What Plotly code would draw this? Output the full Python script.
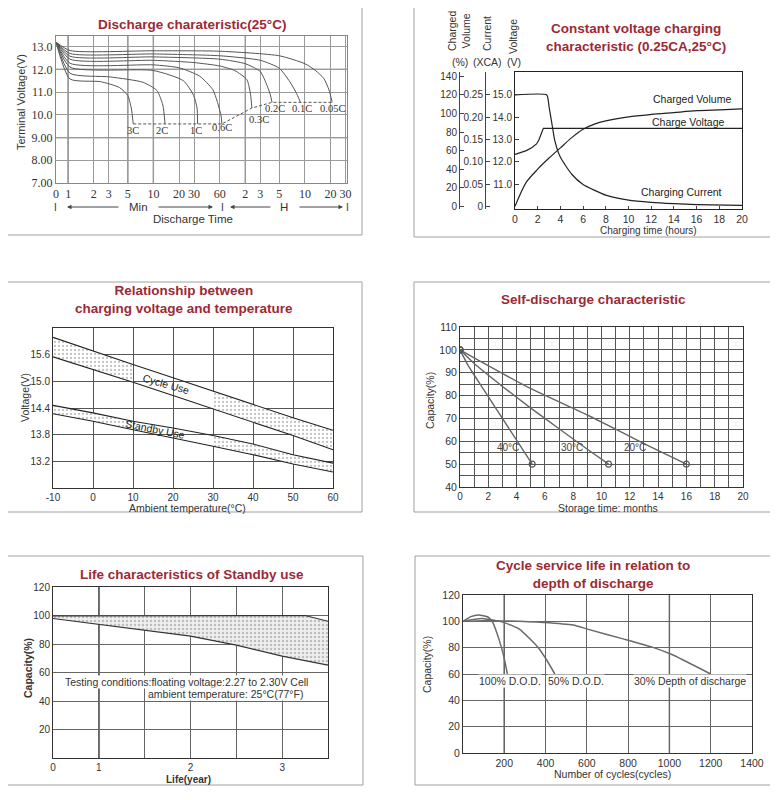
import math
import plotly.graph_objects as go

# The page body adds an 8px margin; lay the figure out in reference-pixel terms
OFF = 8
W, H = 770, 792
SANS = "Liberation Sans"
SERIF = "Liberation Serif"
TITLE_COLOR = "#9b2a35"
TXT = "#333333"

# ---------------- Panel 1: discharge characteristic (time in minutes) ----------------
p1_tick_min = [0.72, 1, 2, 3, 5, 10, 20, 30, 60, 120, 180, 300, 600, 1200, 1800]
p1_tick_text = ["0", "1", "2", "3", "5", "10", "20", "30", "60", "2", "3", "5", "10", "20", "30"]
p1_v_ticks = [7, 8, 9, 10, 11, 12, 13]
p1_v_text = ["7.00", "8.00", "9.00", "10.0", "11.0", "12.0", "13.0"]

t_3c = [0.72, 1.05, 2.4, 4.0, 5.0, 5.5, 5.8]
v_3c = [13.2, 11.58, 11.46, 11.2, 10.85, 10.3, 9.6]
t_2c = [0.72, 1.05, 3.1, 7.6, 11, 12.9, 13.7]
v_2c = [13.2, 11.83, 11.67, 11.43, 11.07, 10.43, 9.6]
t_1c = [0.72, 1.05, 10, 22.5, 29.6, 32.5, 33]
v_1c = [13.2, 12.1, 11.95, 11.5, 10.86, 10.3, 9.6]
t_06c = [0.72, 1.05, 10, 20, 35, 50, 56, 62, 63.7]
v_06c = [13.2, 12.27, 12.2, 12.07, 11.7, 11.1, 10.6, 10.0, 9.6]
t_03c = [0.72, 1.05, 10, 30, 60, 90, 125, 138, 143]
v_03c = [13.2, 12.45, 12.4, 12.3, 12.15, 11.95, 11.55, 10.9, 10.3]
t_02c = [0.72, 1.05, 10, 60, 120, 180, 215, 235, 247]
v_02c = [13.2, 12.58, 12.55, 12.45, 12.25, 11.9, 11.3, 10.9, 10.55]
t_01c = [0.72, 1.05, 10, 60, 180, 300, 400, 470, 532]
v_01c = [13.2, 12.7, 12.68, 12.6, 12.4, 12.05, 11.45, 11.0, 10.55]
t_005c = [0.72, 1.05, 10, 60, 300, 600, 800, 1000, 1150, 1253]
v_005c = [13.2, 12.83, 12.82, 12.8, 12.6, 12.25, 11.95, 11.6, 11.1, 10.55]
cutoff_t = [5.8, 63.7, 143, 247, 1253]
cutoff_v = [9.6, 9.6, 10.3, 10.55, 10.55]
p1_labels = ["3C", "2C", "1C", "0.6C", "0.3C", "0.2C", "0.1C", "0.05C"]
p1_label_t = [5.8, 12.5, 32, 63, 172, 270, 556, 1253]
p1_label_v = [9.33, 9.33, 9.33, 9.43, 9.78, 10.27, 10.27, 10.27]

# ---------------- Panel 2: constant voltage charging ----------------
p2_hours_ticks = list(range(0, 21, 2))
volt_t = [0, 0.5, 1, 1.5, 1.9, 2.1, 2.3, 2.5, 20]
volt_v = [12.33, 12.4, 12.5, 12.64, 12.8, 12.98, 13.25, 13.5, 13.5]
curr_t = [0, 2.8, 3.0, 3.3, 3.5, 4, 5, 6, 8, 10, 12, 14, 16, 20]
curr_i = [0.25, 0.25, 0.224, 0.178, 0.148, 0.11, 0.072, 0.049, 0.025, 0.014, 0.009, 0.006, 0.004, 0.002]
vol_t = [0, 1, 2, 3, 4, 5, 6, 7, 8, 10, 12, 14, 16, 18, 20]
vol_pct = [0, 26, 40, 52, 63, 74, 83, 88.5, 92, 96.4, 99, 101, 103, 104, 105]
p2_volt_ticks = [11, 12, 13, 14, 15]
p2_volt_text = ["11.0", "12.0", "13.0", "14.0", "15.0"]
p2_curr_ticks = [0, 0.05, 0.10, 0.15, 0.20, 0.25]
p2_curr_text = ["0", "0.05", "0.10", "0.15", "0.20", "0.25"]
p2_pct_ticks = [0, 20, 40, 60, 80, 100, 120, 140]
V_RANGE = [9.88, 16.03]

# ---------------- Panel 3: charging voltage vs temperature ----------------
temp_c = [-10, 0, 10, 20, 30, 40, 50, 60]
cycle_upper = [15.99, 15.68, 15.38, 15.08, 14.78, 14.48, 14.18, 13.90]
cycle_lower = [15.55, 15.27, 14.98, 14.68, 14.38, 14.08, 13.78, 13.46]
standby_upper = [14.46, 14.29, 14.10, 13.95, 13.78, 13.59, 13.35, 13.16]
standby_lower = [14.27, 14.10, 13.91, 13.73, 13.54, 13.35, 13.14, 12.96]
p3_volt_ticks = [13.2, 13.8, 14.4, 15.0, 15.6]
p3_temp_ticks = [-10, 0, 10, 20, 30, 40, 50, 60]
p3_temp_text = ["-10", "0", "10", "20", "30", "40", "50", "60"]

# ---------------- Panel 4: self-discharge ----------------
sd40_m = [0, 0.5, 1, 2, 3, 4, 5.1]
sd40_c = [100, 94, 89, 79.5, 70, 60.5, 50]
sd30_m = [0, 1, 3, 5, 7, 9, 10.5]
sd30_c = [100, 94, 84, 74.5, 65.5, 56.5, 50]
sd20_m = [0, 1, 5, 9, 13, 16]
sd20_c = [100, 96.5, 83, 71.5, 59, 50]
p4_labels = ["40°C", "30°C", "20°C"]
p4_label_m = [3.4, 7.9, 12.4]
p4_label_c = [57.2, 57.2, 57.2]

# ---------------- Panel 5: standby life ----------------
life_lower_yr = [0.5, 1, 1.5, 2, 2.5, 3, 3.5]
life_lower_cap = [97.9, 93.9, 89.7, 85.5, 79.2, 71.5, 65.2]
life_upper_yr = [0.5, 3.25, 3.5]
life_upper_cap = [99.6, 100, 96]
p5_x_ticks = [0.5, 1, 1.5, 2, 2.5, 3, 3.5]
p5_x_text = ["0", "1", "", "2", "", "3", ""]
p5_y_ticks = [20, 40, 60, 80, 100, 120]

# ---------------- Panel 6: cycle life ----------------
dod100_n = [0, 38, 76, 121, 144, 174, 197, 215]
dod100_c = [100, 103.6, 104.8, 103.3, 99.2, 86.5, 73.8, 60]
dod50_n = [0, 91, 197, 273, 364, 403, 445]
dod50_c = [100, 102.2, 99.2, 94.1, 80.2, 71.2, 60]
dod30_n = [0, 100, 200, 390, 534, 603, 780, 920, 1009, 1200]
dod30_c = [100, 100.5, 100.3, 99.2, 97.2, 94.1, 86.5, 80.2, 75, 60]
p6_x_ticks = [200, 400, 600, 800, 1000, 1200, 1400]
p6_y_ticks = [0, 20, 40, 60, 80, 100, 120]
p6_labels = ["100% D.O.D.", "50% D.O.D.", "30% Depth of discharge"]
p6_label_n = [227, 549, 1099]
p6_label_c = [54.5, 54.5, 54.5]


def fx(x):
    return (x - OFF) / W


def fy(y):
    return 1 - (y - OFF) / H


def hx(x0, x1):
    return [fx(x0), fx(x1)]


def vy(top, bottom):
    return [fy(bottom), fy(top)]


fig = go.Figure()

# ---- Panel 1 traces
p1_series = [(t_3c, v_3c), (t_2c, v_2c), (t_1c, v_1c), (t_06c, v_06c),
             (t_03c, v_03c), (t_02c, v_02c), (t_01c, v_01c), (t_005c, v_005c)]
for tt, vv in p1_series:
    fig.add_trace(go.Scatter(x=tt, y=vv, mode="lines", xaxis="x", yaxis="y",
                             line=dict(color="#555", width=1, shape="spline", smoothing=0.6),
                             hoverinfo="skip"))
fig.add_trace(go.Scatter(x=cutoff_t, y=cutoff_v, mode="lines", xaxis="x", yaxis="y",
                         line=dict(color="#555", width=1, dash="3px,2px"), hoverinfo="skip"))

# ---- Panel 2 traces
fig.add_trace(go.Scatter(x=volt_t, y=volt_v, mode="lines", xaxis="x2", yaxis="y2",
                         line=dict(color="#222", width=1.2)))
fig.add_trace(go.Scatter(x=curr_t, y=curr_i, mode="lines", xaxis="x2", yaxis="y8",
                         line=dict(color="#222", width=1.2, shape="spline", smoothing=0.5)))
fig.add_trace(go.Scatter(x=vol_t, y=vol_pct, mode="lines", xaxis="x2", yaxis="y7",
                         line=dict(color="#222", width=1.2, shape="spline", smoothing=0.8)))

# ---- Panel 3 traces: dotted band segments then lines
pat = dict(shape=".", fgcolor="#888", bgcolor="white", size=4, solidity=0.25)
for up, lo in [(cycle_upper, cycle_lower), (standby_upper, standby_lower)]:
    for seg in [slice(0, 3), slice(4, 8)]:
        xs = temp_c[seg]
        poly_x = xs + xs[::-1]
        poly_y = up[seg] + lo[seg][::-1]
        fig.add_trace(go.Scatter(x=poly_x, y=poly_y, mode="none", fill="toself",
                                 fillpattern=pat, fillcolor="rgba(0,0,0,0)",
                                 xaxis="x3", yaxis="y3", hoverinfo="skip"))
for arr in [cycle_upper, cycle_lower, standby_upper, standby_lower]:
    fig.add_trace(go.Scatter(x=temp_c, y=arr, mode="lines", xaxis="x3", yaxis="y3",
                             line=dict(color="#222", width=1.1)))

# ---- Panel 4 traces
for mm, cc in [(sd40_m, sd40_c), (sd30_m, sd30_c), (sd20_m, sd20_c)]:
    fig.add_trace(go.Scatter(x=mm, y=cc, mode="lines", xaxis="x4", yaxis="y4",
                             line=dict(color="#666", width=1.4, shape="spline", smoothing=0.3)))
    fig.add_trace(go.Scatter(x=[mm[0], mm[-1]], y=[cc[0], cc[-1]], mode="markers",
                             xaxis="x4", yaxis="y4",
                             marker=dict(symbol="circle-open", size=6, color="#555",
                                         line=dict(width=1.2, color="#555"))))

# ---- Panel 5 traces
poly5_x = life_lower_yr + life_upper_yr[::-1]
poly5_y = life_lower_cap + life_upper_cap[::-1]
fig.add_trace(go.Scatter(x=poly5_x, y=poly5_y, mode="none", fill="toself",
                         fillcolor="rgba(0,0,0,0)",
                         fillpattern=dict(shape=".", fgcolor="#8c8c8c", bgcolor="#efefef",
                                          size=4, solidity=0.3),
                         xaxis="x5", yaxis="y5", hoverinfo="skip"))
fig.add_trace(go.Scatter(x=life_lower_yr, y=life_lower_cap, mode="lines", xaxis="x5", yaxis="y5",
                         line=dict(color="#333", width=1.1)))
fig.add_trace(go.Scatter(x=life_upper_yr, y=life_upper_cap, mode="lines", xaxis="x5", yaxis="y5",
                         line=dict(color="#333", width=1.1)))

# ---- Panel 6 traces
for nn, cc in [(dod100_n, dod100_c), (dod50_n, dod50_c), (dod30_n, dod30_c)]:
    fig.add_trace(go.Scatter(x=nn, y=cc, mode="lines", xaxis="x6", yaxis="y6",
                             line=dict(color="#6a6a6a", width=1.5, shape="spline", smoothing=0.5)))


def axis(**kw):
    base = dict(showline=True, linecolor="#333", linewidth=1, mirror=True, ticks="",
                tickfont=dict(family=SANS, size=10, color=TXT), showgrid=True,
                gridcolor="#7a7a7a", gridwidth=1, zeroline=False, fixedrange=True,
                automargin=False)
    base.update(kw)
    return base


layout = dict(
    width=W, height=H, margin=dict(l=0, r=0, t=0, b=0, pad=0, autoexpand=False),
    paper_bgcolor="white", plot_bgcolor="white", showlegend=False,
    # Panel 1
    xaxis=axis(domain=hx(56, 347), anchor="y", type="log",
               range=[-0.143, 3.272], tickvals=p1_tick_min, ticktext=p1_tick_text,
               tickfont=dict(family=SERIF, size=12, color=TXT), linecolor="#888",
               gridcolor="#9a9a9a"),
    yaxis=axis(domain=vy(36, 183), anchor="x", range=[7, 13.47], tickvals=p1_v_ticks,
               ticktext=p1_v_text, tickfont=dict(family=SERIF, size=12, color=TXT),
               linecolor="#888", gridcolor="#9a9a9a"),
    # Panel 2
    xaxis2=axis(domain=hx(515, 742), anchor="y2", range=[0, 20], tickvals=p2_hours_ticks,
                showgrid=False, ticks="inside", ticklen=3,
                tickfont=dict(family=SANS, size=10.5, color=TXT), linecolor="#222"),
    yaxis2=axis(domain=vy(72, 209), anchor="x2", range=V_RANGE, tickvals=p2_volt_ticks,
                ticktext=p2_volt_text, showgrid=False, ticks="inside", ticklen=4,
                linecolor="#222"),
    yaxis7=axis(overlaying="y2", anchor="free", position=fx(459), side="left",
                range=[(V_RANGE[0] - 10) * 24, (V_RANGE[1] - 10) * 24], tickvals=p2_pct_ticks,
                showgrid=False, mirror=False, ticks="inside", ticklen=4, linecolor="#444"),
    yaxis8=axis(overlaying="y2", anchor="free", position=fx(485), side="left",
                range=[(V_RANGE[0] - 10) / 20, (V_RANGE[1] - 10) / 20], tickvals=p2_curr_ticks,
                ticktext=p2_curr_text, showgrid=False, mirror=False, ticks="inside", ticklen=4,
                linecolor="#444"),
    # Panel 3
    xaxis3=axis(domain=hx(53, 333), anchor="y3", range=[-10, 60], tickvals=p3_temp_ticks,
                ticktext=p3_temp_text, gridcolor="#555",
                tickfont=dict(family=SANS, size=10, color=TXT)),
    yaxis3=axis(domain=vy(328, 488), anchor="x3", range=[12.6, 16.2], tickvals=p3_volt_ticks,
                tickformat=".1f", gridcolor="#555"),
    # Panel 4
    xaxis4=axis(domain=hx(460, 743), anchor="y4", range=[0, 20], dtick=2, tick0=0,
                gridcolor="#555", tickfont=dict(family=SANS, size=10, color=TXT),
                minor=dict(dtick=1, showgrid=True, gridcolor="#555", gridwidth=1)),
    yaxis4=axis(domain=vy(327, 487), anchor="x4", range=[40, 110], dtick=10, tick0=40,
                gridcolor="#555", tickfont=dict(family=SANS, size=10.5, color=TXT),
                minor=dict(dtick=5, showgrid=True, gridcolor="#555", gridwidth=1)),
    # Panel 5
    xaxis5=axis(domain=hx(53, 328), anchor="y5", range=[0.5, 3.5], tickvals=p5_x_ticks,
                ticktext=p5_x_text, gridcolor="#666",
                tickfont=dict(family=SANS, size=10, color=TXT)),
    yaxis5=axis(domain=vy(587, 758), anchor="x5", range=[0, 120], tickvals=p5_y_ticks,
                gridcolor="#666"),
    # Panel 6
    xaxis6=axis(domain=hx(463, 752), anchor="y6", range=[0, 1400], tickvals=p6_x_ticks,
                gridcolor="#666", tickfont=dict(family=SANS, size=10.5, color=TXT)),
    yaxis6=axis(domain=vy(595, 753), anchor="x6", range=[0, 120], tickvals=p6_y_ticks,
                gridcolor="#666", tickfont=dict(family=SANS, size=10.5, color=TXT)),
)
fig.update_layout(**layout)

shapes = []
# panel frames
for x0, y0, x1, y1 in [(7, 7, 362, 235), (414, 7, 771, 237), (7, 282, 362, 512),
                       (414, 282, 771, 512), (7, 556, 363, 785), (415, 556, 771, 785)]:
    shapes.append(dict(type="rect", xref="paper", yref="paper", x0=fx(x0), x1=fx(x1),
                       y0=fy(y1), y1=fy(y0), line=dict(color="#a0a0a0", width=1)))
# darker grid lines
for gx in [1, 5, 10, 120]:
    shapes.append(dict(type="line", xref="x", yref="y domain", x0=gx, x1=gx, y0=0, y1=1,
                       line=dict(color="#555", width=1.3), layer="below"))
for gy in [12, 9]:
    shapes.append(dict(type="line", xref="x domain", yref="y", x0=0, x1=1, y0=gy, y1=gy,
                       line=dict(color="#555", width=1.3), layer="below"))
shapes.append(dict(type="line", xref="x5", yref="y5 domain", x0=1, x1=1, y0=0, y1=1,
                   line=dict(color="#111", width=1.5), layer="below"))
for gx in [200, 1000]:
    shapes.append(dict(type="line", xref="x6", yref="y6 domain", x0=gx, x1=gx, y0=0, y1=1,
                       line=dict(color="#111", width=1.3), layer="below"))
fig.update_layout(shapes=shapes)

ann = []


def paper_text(text, x, y, size=10.5, color=TXT, bold=False, family=SANS, angle=0,
               xanchor="center"):
    t = "<b>%s</b>" % text if bold else text
    ann.append(dict(text=t, x=fx(x), y=fy(y), xref="paper", yref="paper",
                    showarrow=False, xanchor=xanchor, yanchor="middle", textangle=angle,
                    font=dict(family=family, size=size, color=color)))


# titles
paper_text("Discharge charateristic(25°C)", 192, 25, size=13.5, color=TITLE_COLOR, bold=True)
paper_text("Constant voltage charging<br>characteristic (0.25CA,25°C)", 636, 38, size=13.5,
           color=TITLE_COLOR, bold=True)
paper_text("Relationship between<br>charging voltage and temperature", 184, 299, size=13.5,
           color=TITLE_COLOR, bold=True)
paper_text("Self-discharge characteristic", 593, 299, size=13.5, color=TITLE_COLOR, bold=True)
paper_text("Life characteristics of Standby use", 192, 574, size=13.5, color=TITLE_COLOR, bold=True)
paper_text("Cycle service life in relation to<br>depth of discharge", 593, 574, size=13.5,
           color=TITLE_COLOR, bold=True)

# axis titles
paper_text("Terminal Voltage(V)", 21, 102, size=11, angle=-90)
paper_text("Discharge Time", 193, 219, size=11.5)
paper_text("I", 55, 207, size=10)
paper_text("I", 222, 207, size=10)
paper_text("I", 347, 207, size=10)
paper_text("Min", 138, 207, size=11.5)
paper_text("H", 284, 207, size=11.5)
for hx_, tail in [(67, 53), (213, -56), (230, 42), (343, -45)]:
    ann.append(dict(text="", x=fx(hx_), y=fy(207), xref="paper", yref="paper",
                    showarrow=True, ax=tail, ay=0, arrowhead=2, arrowsize=0.9,
                    arrowwidth=1, arrowcolor="#444"))

paper_text("Charged<br>Volume", 459, 31, size=10.5, angle=-90)
paper_text("Current", 487, 34, size=10.5, angle=-90)
paper_text("Voltage", 513, 37, size=10.5, angle=-90)
paper_text("(%)", 460, 62, size=10.5)
paper_text("(XCA)", 487, 62, size=10.5)
paper_text("(V)", 514, 62, size=10.5)
paper_text("Charging time (hours)", 648, 230.5, size=10)

paper_text("Voltage(V)", 25, 398, size=10.5, angle=-90)
paper_text("Ambient temperature(°C)", 187, 507.5, size=10.5)
paper_text("Capacity(%)", 430, 400, size=10.5, angle=-90)
paper_text("Storage time: months", 608, 507.5, size=10.5)
paper_text("Capacity(%)", 28, 668, size=10.5, angle=-90, bold=True)
paper_text("Life(year)", 188, 779.5, size=10, bold=True)
paper_text("Capacity(%)", 427, 665, size=10.5, angle=-90)
paper_text("Number of cycles(cycles)", 612, 774, size=10.5)

# in-plot labels
for lab, tx, vv in zip(p1_labels, p1_label_t, p1_label_v):
    ann.append(dict(text=lab, x=math.log10(tx), y=vv, xref="x", yref="y",
                    showarrow=False, font=dict(family=SERIF, size=10.5, color=TXT),
                    xanchor="center", yanchor="middle"))

for lab, xx, vv in [("Charged Volume", 15.6, 14.8), ("Charge Voltage", 15.3, 13.8),
                    ("Charging Current", 14.7, 10.65)]:
    ann.append(dict(text=lab, x=xx, y=vv, xref="x2", yref="y2", showarrow=False,
                    font=dict(family=SANS, size=10.5, color="#222")))

ann.append(dict(text="Cycle Use", x=18.3, y=14.93, xref="x3", yref="y3", showarrow=False,
                textangle=16, font=dict(family=SANS, size=10.5, color="#222")))
ann.append(dict(text="Standby Use", x=15.4, y=13.93, xref="x3", yref="y3", showarrow=False,
                textangle=11, font=dict(family=SANS, size=10.5, color="#222")))

for lab, mm, cc in zip(p4_labels, p4_label_m, p4_label_c):
    ann.append(dict(text=lab, x=mm, y=cc, xref="x4", yref="y4", showarrow=False,
                    font=dict(family=SANS, size=10, color="#444")))

ann.append(dict(text="Testing conditions:floating voltage:2.27 to 2.30V Cell", x=0.62, y=53.6,
                xref="x5", yref="y5", showarrow=False, xanchor="left", bgcolor="white",
                font=dict(family=SANS, size=10.5, color="#333"), borderpad=0))
ann.append(dict(text="ambient temperature: 25°C(77°F)", x=1.53, y=45.2,
                xref="x5", yref="y5", showarrow=False, xanchor="left", bgcolor="white",
                font=dict(family=SANS, size=10.5, color="#333"), borderpad=0))

for lab, nn, cc in zip(p6_labels, p6_label_n, p6_label_c):
    ann.append(dict(text=lab, x=nn, y=cc, xref="x6", yref="y6", showarrow=False,
                    bgcolor="white", borderpad=0,
                    font=dict(family=SANS, size=10.5, color="#333")))

fig.update_layout(annotations=ann)
fig.write_html("out.html")
